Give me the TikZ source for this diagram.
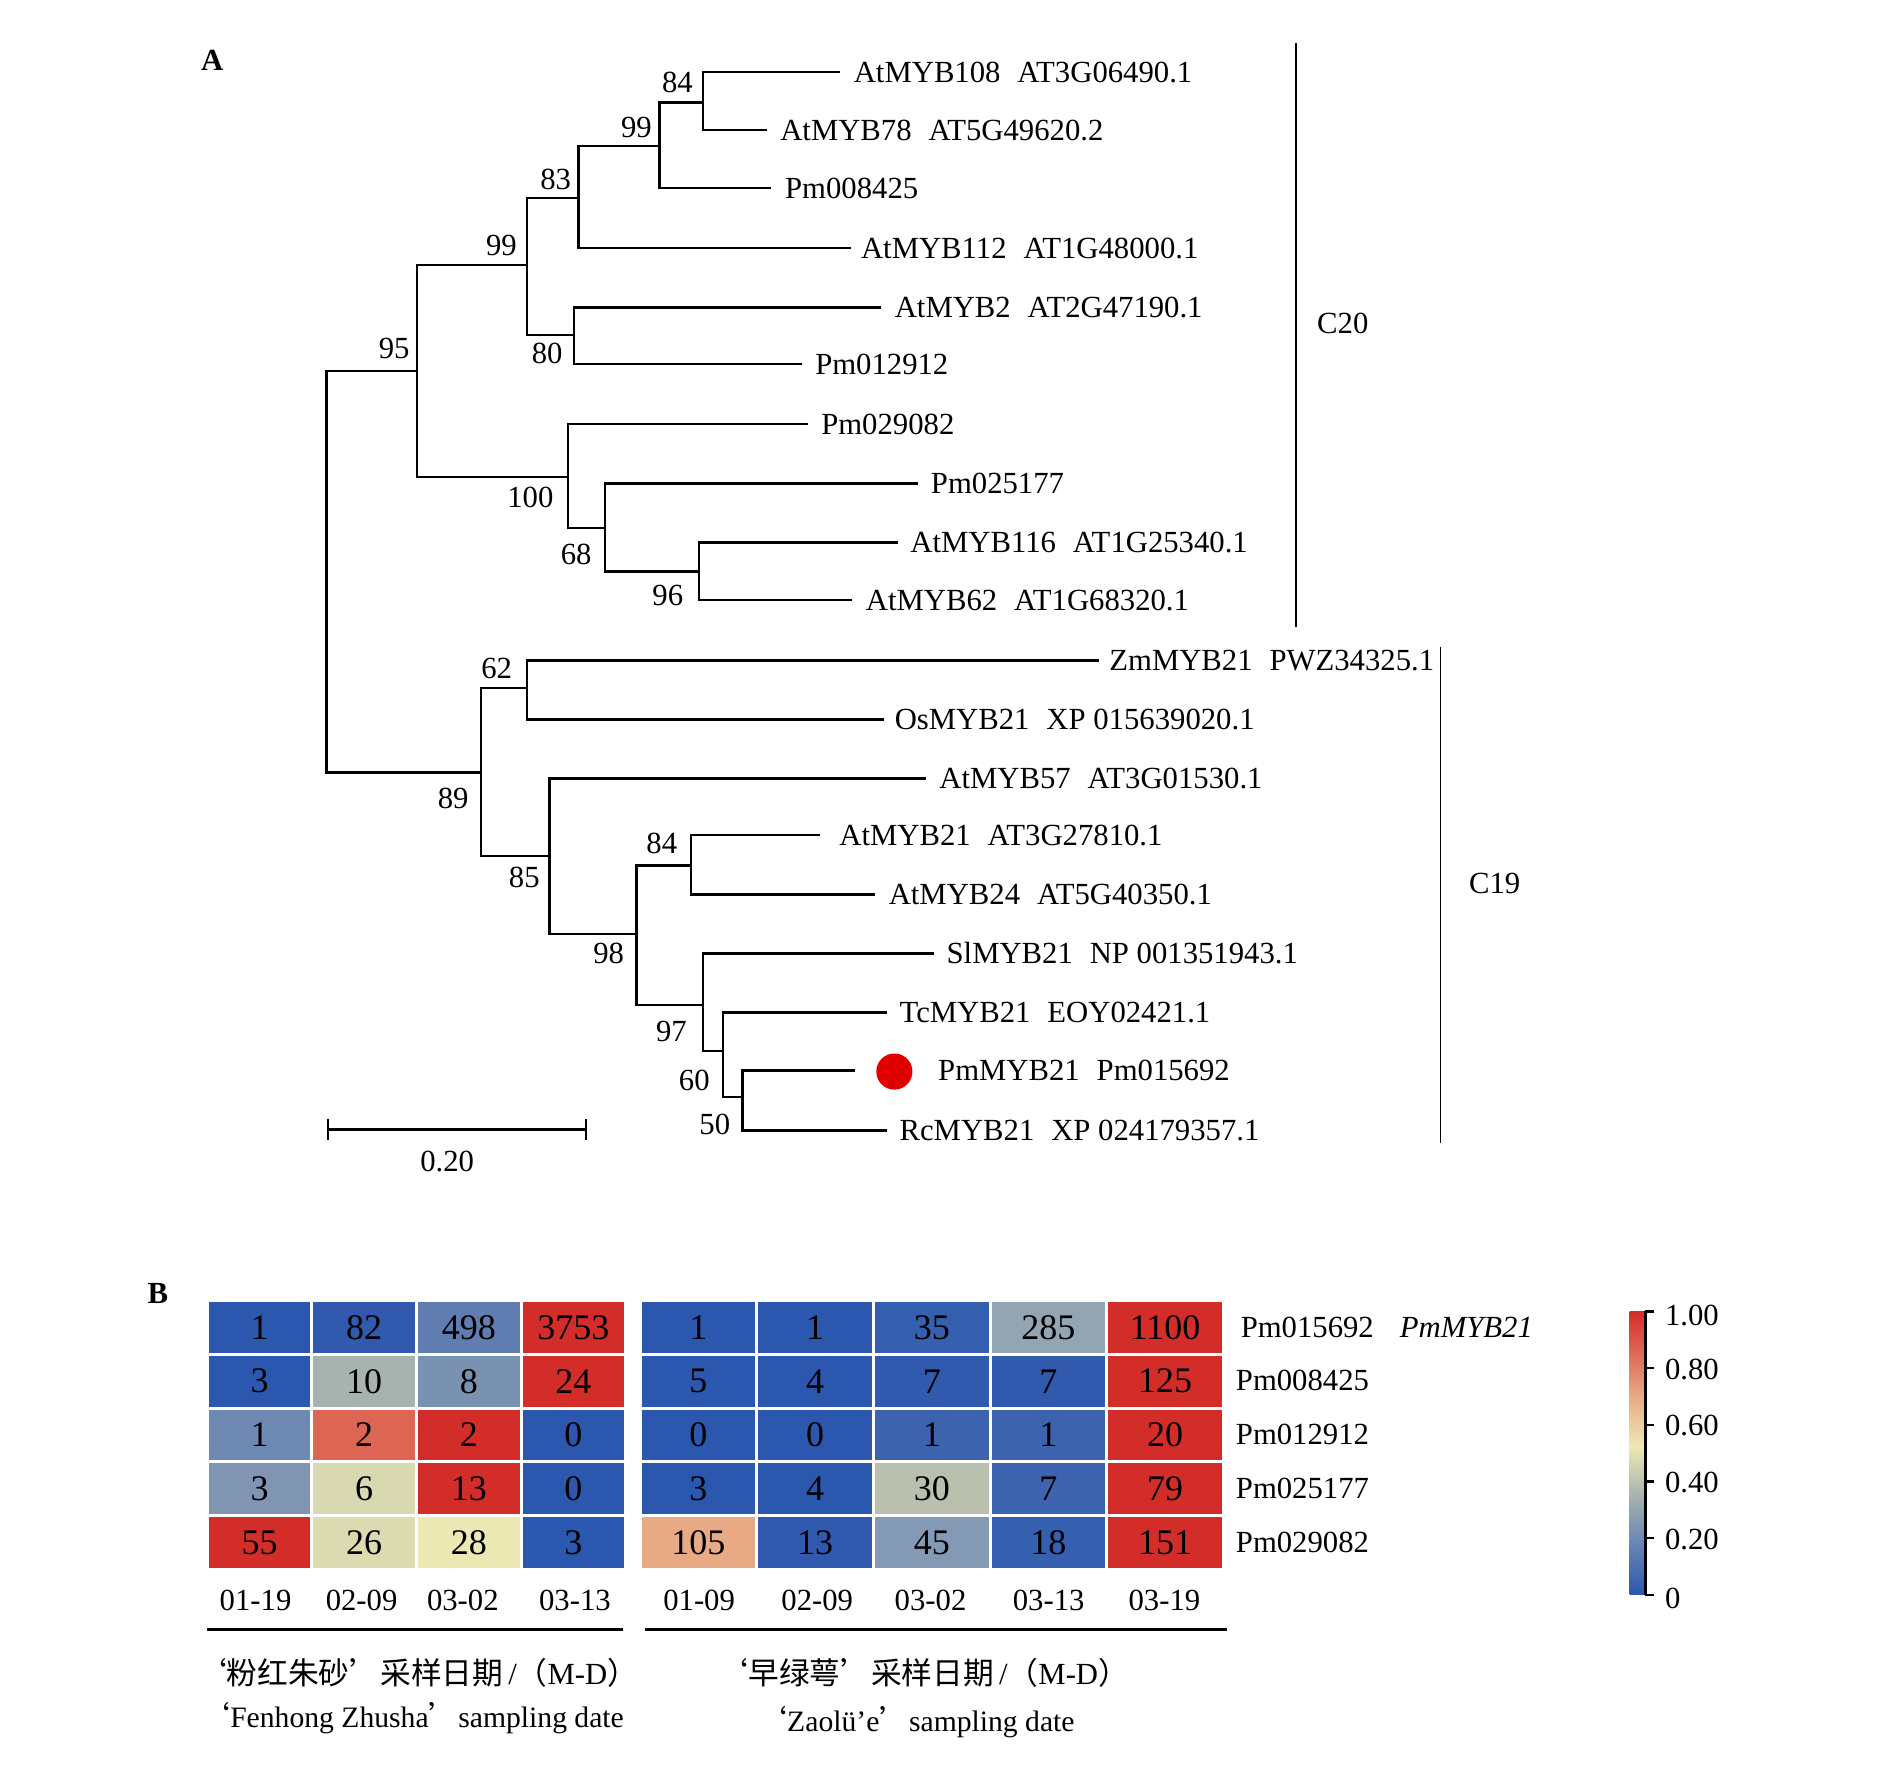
\documentclass[tikz,border=0pt]{standalone}
\usepackage{fontspec}
\setmainfont{Liberation Serif}
\newfontfamily\cjk{Noto Sans CJK SC}
\usepackage{xcolor}
\definecolor{hmblue}{HTML}{2C57AE}
\definecolor{hmblueA}{HTML}{3159AD}
\definecolor{hmblueB}{HTML}{3560B0}
\definecolor{hmblueC}{HTML}{3E63AE}
\definecolor{hmsteel}{HTML}{5F7DB0}
\definecolor{hmslate}{HTML}{7A92B1}
\definecolor{hmslateB}{HTML}{6E8AB4}
\definecolor{hmslateC}{HTML}{7F95B1}
\definecolor{hmslateD}{HTML}{8499B3}
\definecolor{hmgrey}{HTML}{93A4B2}
\definecolor{hmsage}{HTML}{A7B3AF}
\definecolor{hmsageB}{HTML}{B9C1AE}
\definecolor{hmcream}{HTML}{D8D8B1}
\definecolor{hmcreamB}{HTML}{DCDAB0}
\definecolor{hmpale}{HTML}{ECE8B4}
\definecolor{hmcoral}{HTML}{DC6553}
\definecolor{hmpeach}{HTML}{E8A985}
\definecolor{hmred}{HTML}{D32D29}
\definecolor{dotred}{HTML}{E00000}
\newcommand{\gp}{\hspace{0.55em}}

\begin{document}
\begin{tikzpicture}[x=0.02cm, y=-0.02cm,
    font=\fontsize{14.5}{17}\selectfont,
    br/.style={line width=1.1pt},
    clade/.style={line width=0.7pt},
    leaf/.style={anchor=west, inner sep=0pt},
    bs/.style={inner sep=0pt},
    hl/.style={minimum width=1.685cm, minimum height=0.84cm, inner sep=0pt, font=\fontsize{17}{20}\selectfont},
    hr/.style={hl, minimum width=1.886cm},
    pm/.style={anchor=west, inner sep=0pt},
    capen/.style={font=\fontsize{14}{17}\selectfont},
    dot/.style={circle, fill=dotred, minimum size=0.6cm, inner sep=0pt}]
    \useasboundingbox (0,0) rectangle (1568,1476);

    \node[font=\fontsize{14.5}{17}\selectfont\bfseries] (lblA) at (176,50) {A};

    \coordinate (r) at (271,470);
    \coordinate (n95) at (346,308);
    \coordinate (n99a) at (437,220);
    \coordinate (n83) at (480,164);
    \coordinate (n99b) at (547,121);
    \coordinate (n84a) at (583,85);
    \coordinate (n80) at (476,278);
    \coordinate (n100) at (471,396);
    \coordinate (n68) at (502,438);
    \coordinate (n96) at (580,474);
    \coordinate (n89) at (399,641);
    \coordinate (n62) at (437,571);
    \coordinate (n85) at (456,710);
    \coordinate (n98) at (528,775);
    \coordinate (n84b) at (573,718);
    \coordinate (n97) at (583,834);
    \coordinate (n60) at (600,872);
    \coordinate (n50) at (616,910);

    \coordinate (l108) at (697,60);
    \coordinate (l78) at (636,108);
    \coordinate (l8425) at (640,156);
    \coordinate (l112) at (706,206);
    \coordinate (l2) at (731,255);
    \coordinate (l12912) at (665,302);
    \coordinate (l29082) at (670,352);
    \coordinate (l25177) at (762,401);
    \coordinate (l116) at (745,450);
    \coordinate (l62) at (707,498);
    \coordinate (lZm) at (912,548);
    \coordinate (lOs) at (733,597);
    \coordinate (l57) at (768,646);
    \coordinate (l21) at (680,693);
    \coordinate (l24) at (726,742);
    \coordinate (lSl) at (775,791);
    \coordinate (lTc) at (736,840);
    \coordinate (lPm) at (709,888);
    \coordinate (lRc) at (736,938);

    \draw[br] (r) |- (n95);
    \draw[br] (r) |- (n89);
    \draw[br] (n95) |- (n99a);
    \draw[br] (n95) |- (n100);
    \draw[br] (n99a) |- (n83);
    \draw[br] (n99a) |- (n80);
    \draw[br] (n83) |- (n99b);
    \draw[br] (n83) |- (l112);
    \draw[br] (n99b) |- (n84a);
    \draw[br] (n99b) |- (l8425);
    \draw[br] (n84a) |- (l108);
    \draw[br] (n84a) |- (l78);
    \draw[br] (n80) |- (l2);
    \draw[br] (n80) |- (l12912);
    \draw[br] (n100) |- (l29082);
    \draw[br] (n100) |- (n68);
    \draw[br] (n68) |- (l25177);
    \draw[br] (n68) |- (n96);
    \draw[br] (n96) |- (l116);
    \draw[br] (n96) |- (l62);

    \draw[br] (n89) |- (n62);
    \draw[br] (n89) |- (n85);
    \draw[br] (n62) |- (lZm);
    \draw[br] (n62) |- (lOs);
    \draw[br] (n85) |- (l57);
    \draw[br] (n85) |- (n98);
    \draw[br] (n98) |- (n84b);
    \draw[br] (n98) |- (n97);
    \draw[br] (n84b) |- (l21);
    \draw[br] (n84b) |- (l24);
    \draw[br] (n97) |- (lSl);
    \draw[br] (n97) |- (n60);
    \draw[br] (n60) |- (lTc);
    \draw[br] (n60) |- (n50);
    \draw[br] (n50) |- (lPm);
    \draw[br] (n50) |- (lRc);

    \node[bs] (b95) at (327,289) {95};
    \node[bs] (b99a) at (416,204) {99};
    \node[bs] (b83) at (461,149) {83};
    \node[bs] (b99b) at (528,106) {99};
    \node[bs] (b84a) at (562,68) {84};
    \node[bs] (b80) at (454,293) {80};
    \node[bs] (b100) at (440,413) {100};
    \node[bs] (b68) at (478,460) {68};
    \node[bs] (b96) at (554,494) {96};
    \node[bs] (b62) at (412,555) {62};
    \node[bs] (b89) at (376,662) {89};
    \node[bs] (b85) at (435,728) {85};
    \node[bs] (b98) at (505,791) {98};
    \node[bs] (b84b) at (549,700) {84};
    \node[bs] (b97) at (557,856) {97};
    \node[bs] (b60) at (576,896) {60};
    \node[bs] (b50) at (593,933) {50};

    \node[leaf] (t108) at (708,60) {AtMYB108\gp AT3G06490.1};
    \node[leaf] (t78) at (647,108) {AtMYB78\gp AT5G49620.2};
    \node[leaf] (t8425) at (651,156) {Pm008425};
    \node[leaf] (t112) at (714,206) {AtMYB112\gp AT1G48000.1};
    \node[leaf] (t2) at (742,255) {AtMYB2\gp AT2G47190.1};
    \node[leaf] (t12912) at (676,302) {Pm012912};
    \node[leaf] (t29082) at (681,352) {Pm029082};
    \node[leaf] (t25177) at (772,401) {Pm025177};
    \node[leaf] (t116) at (755,450) {AtMYB116\gp AT1G25340.1};
    \node[leaf] (t62) at (718,498) {AtMYB62\gp AT1G68320.1};
    \node[leaf] (tZm) at (920,548) {ZmMYB21\gp PWZ34325.1};
    \node[leaf] (tOs) at (742,597) {OsMYB21\gp XP 015639020.1};
    \node[leaf] (t57) at (779,646) {AtMYB57\gp AT3G01530.1};
    \node[leaf] (t21) at (696,693) {AtMYB21\gp AT3G27810.1};
    \node[leaf] (t24) at (737,742) {AtMYB24\gp AT5G40350.1};
    \node[leaf] (tSl) at (785,791) {SlMYB21\gp NP 001351943.1};
    \node[leaf] (tTc) at (746,840) {TcMYB21\gp EOY02421.1};
    \node[dot] (pmdot) at (742,889) {};
    \node[leaf] (tPm) at (778,888) {PmMYB21\gp Pm015692};
    \node[leaf] (tRc) at (746,938) {RcMYB21\gp XP 024179357.1};

    \draw[clade] (1075,36) -- (1075,520);
    \node (c20) at (1114,268) {C20};
    \draw[clade] (1195,537) -- (1195,948);
    \node (c19) at (1240,733) {C19};

    \draw[br] (272,928) -- (272,946) (272,937) -- (486,937) (486,928) -- (486,946);
    \node (sc) at (371,964) {0.20};

    \node[font=\fontsize{14.5}{17}\selectfont\bfseries] (lblB) at (131,1073) {B};

    \node[hl, fill=hmblue] (f11) at (215.4,1101.3) {1};
    \node[hl, fill=hmblueA] (f12) at (302.1,1101.3) {82};
    \node[hl, fill=hmsteel] (f13) at (388.9,1101.3) {498};
    \node[hl, fill=hmred] (f14) at (475.6,1101.3) {3753};
    \node[hl, fill=hmblue] (f21) at (215.4,1145.9) {3};
    \node[hl, fill=hmsage] (f22) at (302.1,1145.9) {10};
    \node[hl, fill=hmslate] (f23) at (388.9,1145.9) {8};
    \node[hl, fill=hmred] (f24) at (475.6,1145.9) {24};
    \node[hl, fill=hmslateB] (f31) at (215.4,1190.5) {1};
    \node[hl, fill=hmcoral] (f32) at (302.1,1190.5) {2};
    \node[hl, fill=hmred] (f33) at (388.9,1190.5) {2};
    \node[hl, fill=hmblue] (f34) at (475.6,1190.5) {0};
    \node[hl, fill=hmslateC] (f41) at (215.4,1235.1) {3};
    \node[hl, fill=hmcream] (f42) at (302.1,1235.1) {6};
    \node[hl, fill=hmred] (f43) at (388.9,1235.1) {13};
    \node[hl, fill=hmblue] (f44) at (475.6,1235.1) {0};
    \node[hl, fill=hmred] (f51) at (215.4,1279.7) {55};
    \node[hl, fill=hmcreamB] (f52) at (302.1,1279.7) {26};
    \node[hl, fill=hmpale] (f53) at (388.9,1279.7) {28};
    \node[hl, fill=hmblue] (f54) at (475.6,1279.7) {3};

    \node[hr, fill=hmblue] (z11) at (579.4,1101.3) {1};
    \node[hr, fill=hmblue] (z12) at (676.2,1101.3) {1};
    \node[hr, fill=hmblueB] (z13) at (773,1101.3) {35};
    \node[hr, fill=hmgrey] (z14) at (869.8,1101.3) {285};
    \node[hr, fill=hmred] (z15) at (966.6,1101.3) {1100};
    \node[hr, fill=hmblue] (z21) at (579.4,1145.9) {5};
    \node[hr, fill=hmblue] (z22) at (676.2,1145.9) {4};
    \node[hr, fill=hmblueA] (z23) at (773,1145.9) {7};
    \node[hr, fill=hmblueA] (z24) at (869.8,1145.9) {7};
    \node[hr, fill=hmred] (z25) at (966.6,1145.9) {125};
    \node[hr, fill=hmblue] (z31) at (579.4,1190.5) {0};
    \node[hr, fill=hmblue] (z32) at (676.2,1190.5) {0};
    \node[hr, fill=hmblueC] (z33) at (773,1190.5) {1};
    \node[hr, fill=hmblueC] (z34) at (869.8,1190.5) {1};
    \node[hr, fill=hmred] (z35) at (966.6,1190.5) {20};
    \node[hr, fill=hmblue] (z41) at (579.4,1235.1) {3};
    \node[hr, fill=hmblue] (z42) at (676.2,1235.1) {4};
    \node[hr, fill=hmsageB] (z43) at (773,1235.1) {30};
    \node[hr, fill=hmblueC] (z44) at (869.8,1235.1) {7};
    \node[hr, fill=hmred] (z45) at (966.6,1235.1) {79};
    \node[hr, fill=hmpeach] (z51) at (579.4,1279.7) {105};
    \node[hr, fill=hmblueA] (z52) at (676.2,1279.7) {13};
    \node[hr, fill=hmslateD] (z53) at (773,1279.7) {45};
    \node[hr, fill=hmblueB] (z54) at (869.8,1279.7) {18};
    \node[hr, fill=hmred] (z55) at (966.6,1279.7) {151};

    \node[pm] (g1) at (1029,1101) {Pm015692};
    \node[pm] (g1b) at (1161,1101) {\textit{PmMYB21}};
    \node[pm] (g2) at (1025,1145) {Pm008425};
    \node[pm] (g3) at (1025,1190) {Pm012912};
    \node[pm] (g4) at (1025,1235) {Pm025177};
    \node[pm] (g5) at (1025,1280) {Pm029082};

    \node (d1) at (212,1328) {01-19};
    \node (d2) at (300,1328) {02-09};
    \node (d3) at (384,1328) {03-02};
    \node (d4) at (477,1328) {03-13};
    \node (e1) at (580,1328) {01-09};
    \node (e2) at (678,1328) {02-09};
    \node (e3) at (772,1328) {03-02};
    \node (e4) at (870,1328) {03-13};
    \node (e5) at (966,1328) {03-19};

    \draw[br] (172,1352) -- (517,1352);
    \draw[br] (535,1352) -- (1018,1352);

    \node (cap1) at (346,1388) {{\cjk ‘粉红朱砂’采样日期}\,/{\cjk （}M-D{\cjk ）}};
    \node[capen] (cap2) at (342,1425) {{\cjk ‘}Fenhong Zhusha{\cjk ’}sampling date};
    \node (cap3) at (766,1388) {{\cjk ‘早绿萼’采样日期}\,/{\cjk （}M-D{\cjk ）}};
    \node[capen] (cap4) at (760,1429) {{\cjk ‘}Zaolü’e{\cjk ’}sampling date};

    \shade[bottom color=hmblue, top color=hmslateB] (1352,1323) rectangle (1364,1276);
    \shade[bottom color=hmslateB, top color=hmsage] (1352,1276) rectangle (1364,1241);
    \shade[bottom color=hmsage, top color=hmpale] (1352,1241) rectangle (1364,1200);
    \shade[bottom color=hmpale, top color=hmpeach] (1352,1200) rectangle (1364,1158);
    \shade[bottom color=hmpeach, top color=hmred] (1352,1158) rectangle (1364,1088);
    \draw[br] (1365,1088) -- (1365,1323);
    \draw[br] (1365,1088) -- (1372,1088) (1365,1135) -- (1372,1135) (1365,1182) -- (1372,1182)
        (1365,1229) -- (1372,1229) (1365,1276) -- (1372,1276) (1365,1323) -- (1372,1323);
    \node[pm] (k1) at (1381,1091) {1.00};
    \node[pm] (k2) at (1381,1136) {0.80};
    \node[pm] (k3) at (1381,1183) {0.60};
    \node[pm] (k4) at (1381,1230) {0.40};
    \node[pm] (k5) at (1381,1277) {0.20};
    \node[pm] (k6) at (1381,1326) {0};

\end{tikzpicture}
\end{document}
